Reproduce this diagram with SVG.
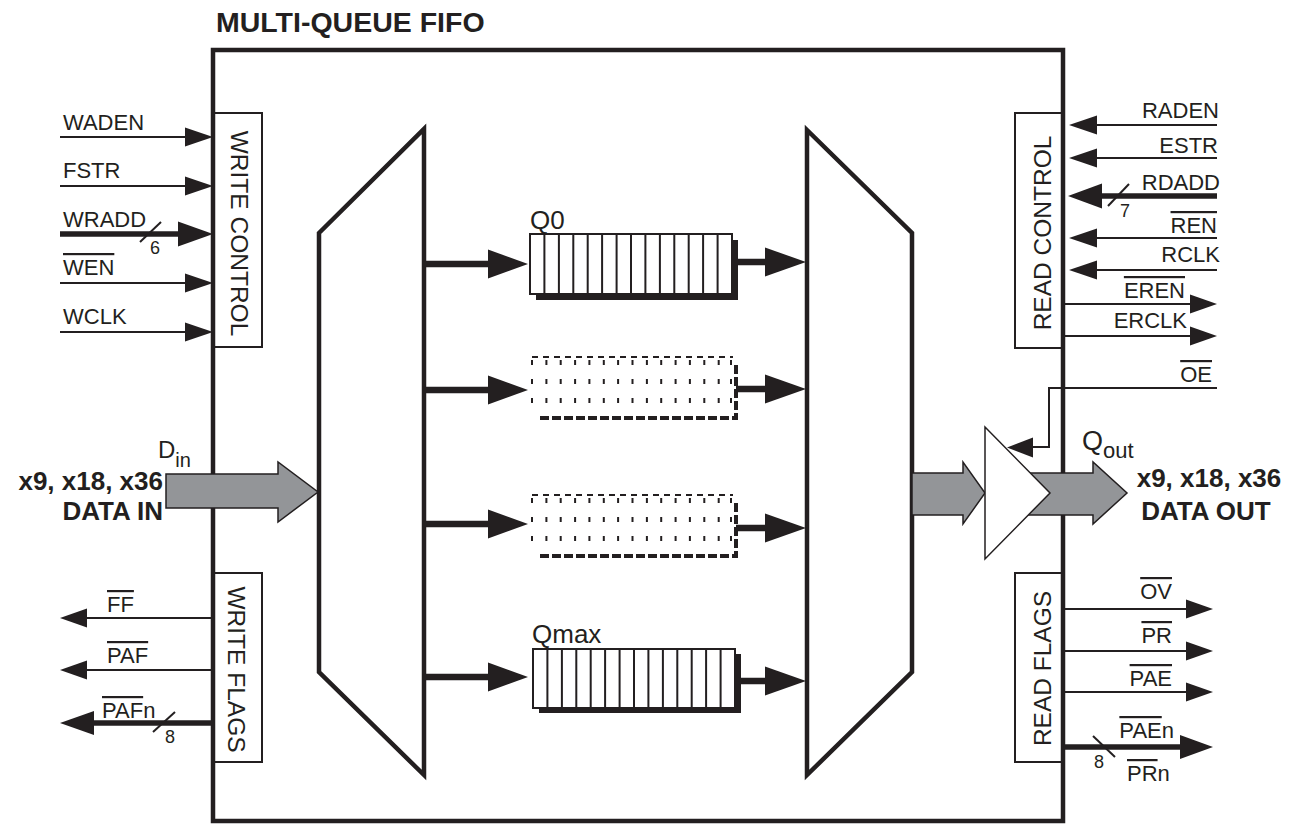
<svg xmlns="http://www.w3.org/2000/svg" width="1296" height="824" viewBox="0 0 1296 824">
<style>
text{font-family:"Liberation Sans",Arial,Helvetica,sans-serif;fill:#231f20}
.sig{font-size:22px}
.num{font-size:18px}
.bold{font-weight:bold;font-size:26px}
.vlab{font-size:24.5px}
.ql{font-size:26px}
.ov{text-decoration:overline}
.thin{stroke:#231f20;stroke-width:2;fill:none}
.thick{stroke:#231f20;stroke-width:5.5;fill:none}
.head{fill:#231f20;stroke:none}
.box{fill:#fff;stroke:#231f20;stroke-width:2}
.heavy{fill:#fff;stroke:#231f20;stroke-width:4.5;stroke-linejoin:miter}
.gray{fill:#939598;stroke:#231f20;stroke-width:1.5}
.qline{stroke:#231f20;stroke-width:6.5;fill:none}
.cell{stroke:#231f20;stroke-width:2;fill:none}
.dcell{stroke:#231f20;stroke-width:2;fill:none;stroke-dasharray:5 14;stroke-dashoffset:-3}
.dtop{stroke:#231f20;stroke-width:2;fill:none;stroke-dasharray:6 5}
.dshadow{stroke:#231f20;stroke-width:4;fill:none;stroke-dasharray:9 3}
</style>

<g id="title"><text x="216" y="32" font-weight="bold" font-size="28.5">MULTI-QUEUE FIFO</text></g>

<g id="write-control">
<rect class="box" x="214" y="113" width="48" height="234"/>
<text class="vlab" text-anchor="middle" transform="translate(231 233.5) rotate(90)">WRITE CONTROL</text>
</g>
<g id="write-flags">
<rect class="box" x="214" y="573" width="48" height="189"/>
<text class="vlab" text-anchor="middle" transform="translate(228 669.5) rotate(90)">WRITE FLAGS</text>
</g>
<g id="read-control">
<rect class="box" x="1015" y="113" width="48" height="235"/>
<text class="vlab" text-anchor="middle" transform="translate(1051 233) rotate(-90)">READ CONTROL</text>
</g>
<g id="read-flags">
<rect class="box" x="1015" y="573" width="48" height="189"/>
<text class="vlab" text-anchor="middle" transform="translate(1051 668.5) rotate(-90)">READ FLAGS</text>
</g>

<g id="fifo-box"><rect x="213" y="50" width="850" height="771" fill="none" stroke="#231f20" stroke-width="4.5"/></g>

<g id="demux"><polygon class="heavy" points="319,233 424,129 424,775 319,672"/></g>
<g id="mux"><polygon class="heavy" points="807,130 912,233 912,672 807,775"/></g>

<g id="q0">
<text class="ql" x="530" y="229">Q0</text>
<rect x="536" y="240" width="202" height="60" fill="#231f20"/>
<rect class="box" x="530" y="234" width="202" height="60"/>
<path class="cell" d="M544.4 234V294M558.9 234V294M573.3 234V294M587.7 234V294M602.1 234V294M616.6 234V294M631 234V294M645.4 234V294M659.9 234V294M674.3 234V294M688.7 234V294M703.1 234V294M717.6 234V294"/>
</g>

<g id="q1">
<path class="dshadow" d="M540 418H736V363"/>
<path class="dtop" d="M532 357H733"/>
<path class="dcell" d="M532 357V414M546.4 357V414M560.7 357V414M575.1 357V414M589.4 357V414M603.8 357V414M618.1 357V414M632.5 357V414M646.9 357V414M661.2 357V414M675.6 357V414M689.9 357V414M704.3 357V414M718.7 357V414M731 357V414"/>
</g>

<g id="q2">
<path class="dshadow" d="M540 556H736V501"/>
<path class="dtop" d="M532 495H733"/>
<path class="dcell" d="M532 495V552M546.4 495V552M560.7 495V552M575.1 495V552M589.4 495V552M603.8 495V552M618.1 495V552M632.5 495V552M646.9 495V552M661.2 495V552M675.6 495V552M689.9 495V552M704.3 495V552M718.7 495V552M731 495V552"/>
</g>

<g id="qmax">
<text class="ql" x="532" y="643">Qmax</text>
<rect x="539" y="654" width="202" height="59" fill="#231f20"/>
<rect class="box" x="533" y="649" width="202" height="59"/>
<path class="cell" d="M547.4 649V708M561.9 649V708M576.3 649V708M590.7 649V708M605.1 649V708M619.6 649V708M634 649V708M648.4 649V708M662.9 649V708M677.3 649V708M691.7 649V708M706.1 649V708M720.6 649V708"/>
</g>

<g id="connectors">
<!-- demux to queues -->
<path class="qline" d="M424 264H490M424 390H490M424 524H490M424 677H490"/>
<polygon class="head" points="488,249.5 528,264 488,278.5"/>
<polygon class="head" points="488,375.5 528,390 488,404.5"/>
<polygon class="head" points="488,509.5 528,524 488,538.5"/>
<polygon class="head" points="488,662.5 528,677 488,691.5"/>
<!-- queues to mux -->
<path class="qline" d="M736 262H767M736 389H767M736 528H767M738 681H767"/>
<polygon class="head" points="765,247.5 806,262 765,276.5"/>
<polygon class="head" points="765,374.5 806,389 765,403.5"/>
<polygon class="head" points="765,513.5 806,528 765,542.5"/>
<polygon class="head" points="765,666.5 806,681 765,695.5"/>

<!-- write control inputs -->
<path class="thin" d="M60 137H190M60 186H190M60 283H190M60 332H190"/>
<polygon class="head" points="185,127.5 213,137 185,146.5"/>
<polygon class="head" points="185,176.5 213,186 185,195.5"/>
<polygon class="head" points="185,273.5 213,283 185,292.5"/>
<polygon class="head" points="185,322.5 213,332 185,341.5"/>
<path class="thick" d="M60 234H182"/>
<polygon class="head" points="178,221.5 213,234 178,246.5"/>
<path class="thin" d="M140 242L161 222"/>
<text class="sig" x="63" y="130">WADEN</text>
<text class="sig" x="63" y="178">FSTR</text>
<text class="sig" x="63" y="227">WRADD</text>
<text class="num" x="150" y="254">6</text>
<text class="sig ov" x="63" y="275">WEN</text>
<text class="sig" x="63" y="324">WCLK</text>

<!-- write flags outputs -->
<path class="thin" d="M84 618H213M84 670H213"/>
<polygon class="head" points="87,608.5 60,618 87,627.5"/>
<polygon class="head" points="87,660.5 60,670 87,679.5"/>
<path class="thick" d="M90 723H213"/>
<polygon class="head" points="94,711 60,723 94,735"/>
<path class="thin" d="M153 732L175 712"/>
<text class="sig ov" x="107" y="612">FF</text>
<text class="sig ov" x="107" y="663">PAF</text>
<text class="sig" x="102" y="718"><tspan class="ov">PAF</tspan>n</text>
<text class="num" x="165" y="743">8</text>

<!-- read control inputs -->
<path class="thin" d="M1094 125H1217M1094 158H1217M1094 238H1217M1094 270H1217"/>
<polygon class="head" points="1097,115.5 1069,125 1097,134.5"/>
<polygon class="head" points="1097,148.5 1069,158 1097,167.5"/>
<polygon class="head" points="1097,228.5 1069,238 1097,247.5"/>
<polygon class="head" points="1097,260.5 1069,270 1097,279.5"/>
<path class="thick" d="M1098 196H1217"/>
<polygon class="head" points="1102,183.5 1068,196 1102,208.5"/>
<path class="thin" d="M1108 206L1129 184"/>
<text class="sig" x="1219" y="118" text-anchor="end">RADEN</text>
<text class="sig" x="1218" y="153" text-anchor="end">ESTR</text>
<text class="sig" x="1220" y="190" text-anchor="end">RDADD</text>
<text class="num" x="1120" y="217">7</text>
<text class="sig ov" x="1217" y="233" text-anchor="end">REN</text>
<text class="sig" x="1220" y="262" text-anchor="end">RCLK</text>
<!-- read control outputs -->
<path class="thin" d="M1063 304H1193M1063 336H1193"/>
<polygon class="head" points="1190,294.5 1217,304 1190,313.5"/>
<polygon class="head" points="1190,326.5 1217,336 1190,345.5"/>
<text class="sig ov" x="1185" y="298" text-anchor="end">EREN</text>
<text class="sig" x="1187" y="328" text-anchor="end">ERCLK</text>
<!-- OE -->
<path class="thin" d="M1217 388H1049V447H1030"/>
<polygon class="head" points="1033,437.5 1007,447.5 1033,457.5"/>
<text class="sig ov" x="1212" y="382" text-anchor="end">OE</text>

<!-- read flags outputs -->
<path class="thin" d="M1063 609H1190M1063 651H1190M1063 692H1190"/>
<polygon class="head" points="1186,599.5 1213,609 1186,618.5"/>
<polygon class="head" points="1186,641.5 1213,651 1186,660.5"/>
<polygon class="head" points="1186,682.5 1213,692 1186,701.5"/>
<path class="thick" d="M1063 747H1184"/>
<polygon class="head" points="1180,735 1213,747 1180,759"/>
<path class="thin" d="M1093 736L1115 757"/>
<text class="sig ov" x="1172" y="599" text-anchor="end">OV</text>
<text class="sig ov" x="1172" y="643" text-anchor="end">PR</text>
<text class="sig ov" x="1172" y="686" text-anchor="end">PAE</text>
<text class="sig" x="1174" y="738" text-anchor="end"><tspan class="ov">PAE</tspan>n</text>
<text class="num" x="1094" y="768">8</text>
<text class="sig" x="1127" y="781"><tspan class="ov">PR</tspan>n</text>

<!-- data in -->
<polygon class="gray" points="166,474 278,474 278,462 318,492 278,522 278,508 166,508"/>
<!-- mux to buffer -->
<polygon class="gray" points="912,473 963,473 963,462 985,493 963,524 963,515 912,515"/>
<!-- buffer to data out -->
<polygon class="gray" points="1028,473 1093,473 1093,462 1127,493 1093,524 1093,515 1028,515"/>
</g>

<g id="buffer"><polygon points="985,427 1050,493 985,559" fill="#fff" stroke="#231f20" stroke-width="1.5"/></g>

<g id="data-labels">
<text x="158" y="458" font-size="24">D<tspan font-size="20" dy="9">in</tspan></text>
<text class="bold" x="163" y="490" text-anchor="end">x9, x18, x36</text>
<text class="bold" x="163" y="520" text-anchor="end">DATA IN</text>
<text x="1082" y="450" font-size="27">Q<tspan font-size="22" dy="8">out</tspan></text>
<text class="bold" x="1209" y="487" text-anchor="middle">x9, x18, x36</text>
<text class="bold" x="1206" y="520" text-anchor="middle">DATA OUT</text>
</g>
</svg>
